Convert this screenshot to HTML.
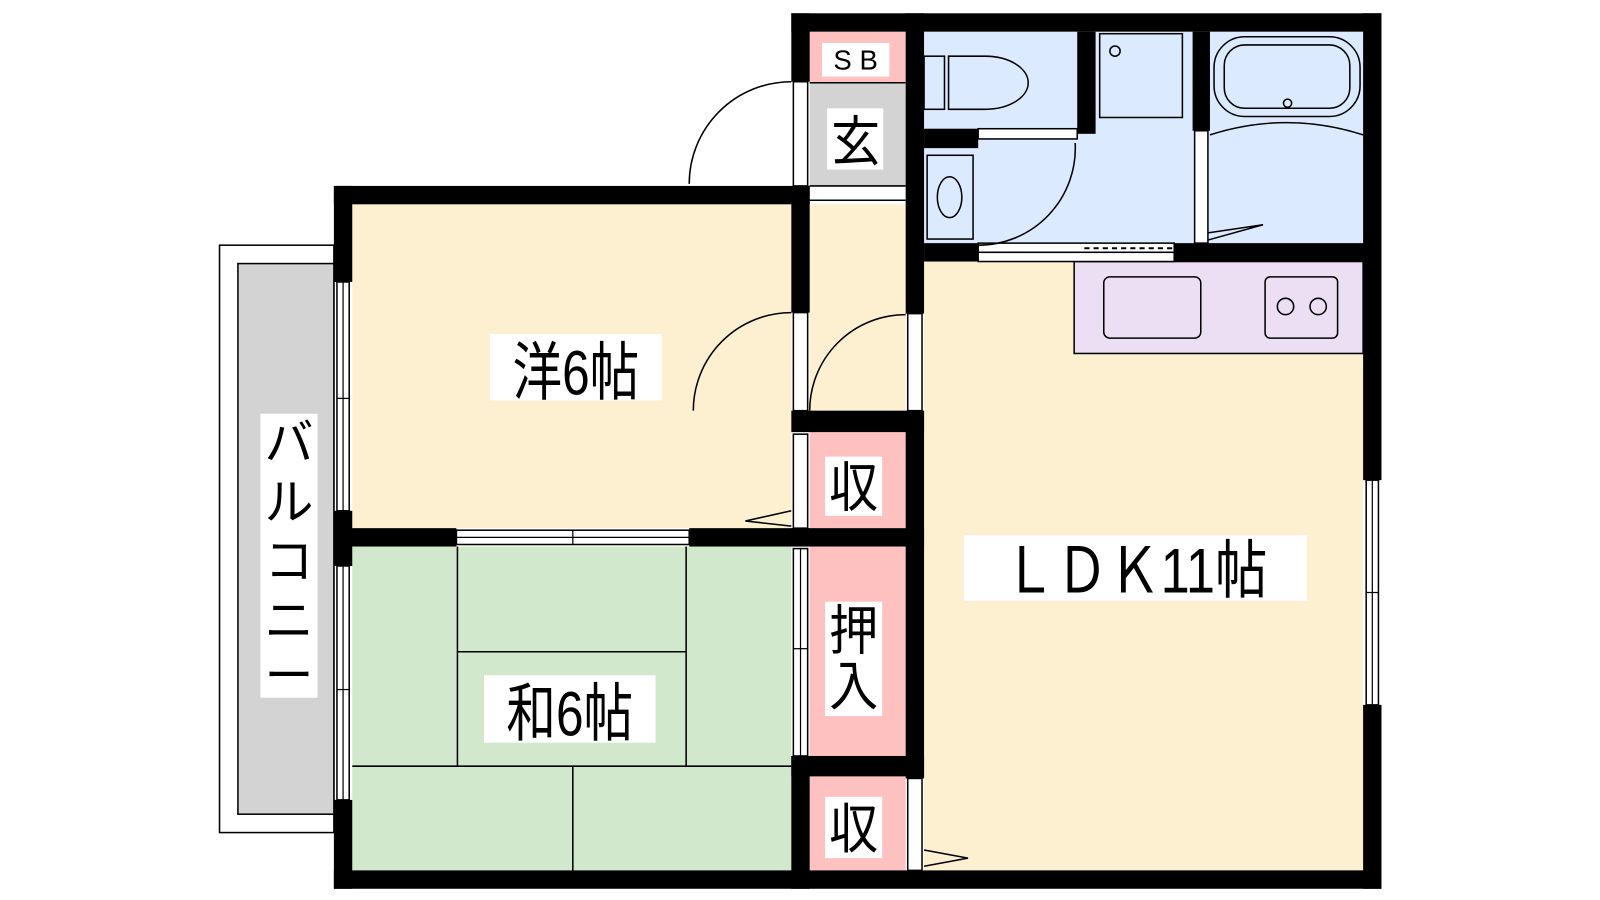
<!DOCTYPE html>
<html><head><meta charset="utf-8"><style>
body{margin:0;background:#fff}
svg{display:block}
text{font-family:"Liberation Sans","Noto Sans CJK JP",sans-serif;fill:#000}
</style></head><body>
<svg width="1600" height="900" viewBox="0 0 1567 881" preserveAspectRatio="none" xmlns="http://www.w3.org/2000/svg">
<rect x="215" y="240" width="112" height="575" fill="#fff" stroke="#000" stroke-width="1.5"/>
<rect x="233" y="258" width="94" height="539" fill="#d3d3d3" stroke="#000" stroke-width="1.5"/>
<rect x="345" y="200" width="430" height="317" fill="#fdf0d0"/>
<rect x="793" y="200" width="94" height="205" fill="#fdf0d0"/>
<rect x="905" y="256" width="430" height="596" fill="#fdf0d0"/>
<rect x="345" y="535" width="430" height="317" fill="#d2e8cc"/>
<rect x="793" y="31" width="94" height="50" fill="#ffc0c0"/>
<rect x="793" y="81" width="94" height="101" fill="#d3d3d3"/>
<rect x="793" y="423" width="94" height="94" fill="#ffc0c0"/>
<rect x="793" y="535" width="94" height="205" fill="#ffc0c0"/>
<rect x="793" y="760" width="94" height="92" fill="#ffc0c0"/>
<rect x="905" y="31" width="430" height="207" fill="#dbeafe"/>
<rect x="1052" y="256" width="283" height="90" fill="#ecdff3" stroke="#000" stroke-width="1.5"/>
<g stroke="#000" stroke-width="1.5" fill="none">
<line x1="448" y1="535" x2="448" y2="750"/><line x1="672" y1="535" x2="672" y2="750"/>
<line x1="448" y1="638" x2="672" y2="638"/><line x1="345" y1="750" x2="775" y2="750"/>
<line x1="561" y1="750" x2="561" y2="852"/>
<line x1="793" y1="81" x2="887" y2="81"/>
<line x1="793" y1="182" x2="887" y2="182"/><line x1="793" y1="196" x2="887" y2="196"/>
</g>
<g fill="#000">
<rect x="775" y="13" width="578" height="18"/>
<rect x="1335" y="13" width="18" height="457"/>
<rect x="1335" y="690" width="18" height="180"/>
<rect x="327" y="852" width="1026" height="18"/>
<rect x="327" y="182" width="466" height="18"/>
<rect x="327" y="182" width="18" height="94"/>
<rect x="327" y="500" width="18" height="54"/>
<rect x="327" y="783" width="18" height="87"/>
<rect x="775" y="13" width="18" height="67"/>
<rect x="775" y="182" width="18" height="124"/>
<rect x="887" y="13" width="18" height="294"/>
<rect x="775" y="402" width="130" height="21"/>
<rect x="327" y="517" width="120" height="18"/>
<rect x="675" y="517" width="230" height="18"/>
<rect x="775" y="517" width="18" height="18"/>
<rect x="887" y="402" width="18" height="360"/>
<rect x="775" y="740" width="130" height="20"/>
<rect x="775" y="740" width="18" height="130"/>
<rect x="905" y="126" width="53" height="19"/>
<rect x="1055" y="31" width="18" height="100"/>
<rect x="1168" y="31" width="17" height="97"/>
<rect x="905" y="238" width="53" height="18"/>
<rect x="1150" y="238" width="203" height="18"/>
</g>
<g fill="#fff" stroke="#000" stroke-width="1.5">
<rect x="330" y="276" width="12" height="224"/><rect x="330" y="554" width="12" height="229"/>
<rect x="447" y="519" width="228" height="14"/>
<rect x="1338" y="470" width="12" height="220"/>
<rect x="777" y="80" width="14" height="102"/>
<rect x="777" y="306" width="14" height="96"/>
<rect x="889" y="307" width="14" height="95"/>
<rect x="777" y="425" width="14" height="92"/>
<rect x="777" y="537" width="14" height="203"/>
<rect x="889" y="762" width="14" height="90"/>
<rect x="958" y="126" width="97" height="10"/>
<rect x="1170" y="128" width="13" height="110"/>
<rect x="958" y="238" width="192" height="9"/><rect x="958" y="247" width="192" height="9"/>
</g>
<g stroke="#000" stroke-width="1.2">
<line x1="336" y1="276" x2="336" y2="500"/><line x1="336" y1="554" x2="336" y2="783"/>
<line x1="447" y1="526" x2="675" y2="526"/><line x1="1344" y1="470" x2="1344" y2="690"/>
<line x1="784" y1="537" x2="784" y2="740"/>
<line x1="330" y1="390" x2="342" y2="390"/><line x1="330" y1="675" x2="342" y2="675"/>
<line x1="561" y1="519" x2="561" y2="533"/><line x1="1338" y1="580" x2="1350" y2="580"/>
<line x1="777" y1="635" x2="791" y2="635"/>
</g>
<line x1="1062" y1="243" x2="1148" y2="243" stroke="#000" stroke-width="2" stroke-dasharray="5,4"/>
<g fill="none" stroke="#000" stroke-width="1.5">
<path d="M775 80 A100 100 0 0 0 675 180"/>
<path d="M775 306 A96 96 0 0 0 679 402"/>
<path d="M887 308 A94 94 0 0 0 793 402"/>
<path d="M958 240 A95 95 0 0 0 1053 140"/>
<path d="M1183 228 L1237 220 L1183 235"/>
<path d="M775 500 L730 510 L775 515"/>
<path d="M905 832 L948 840 L905 848"/>
</g>
<g fill="none" stroke="#000" stroke-width="1.5">
<rect x="905" y="55" width="20" height="52"/>
<path d="M929 55 H965 A42 26 0 0 1 965 107 H929 Z"/>
<rect x="1077" y="33" width="81" height="82"/>
<circle cx="1092" cy="50" r="5"/>
<rect x="1189" y="36" width="143" height="78" rx="30"/>
<rect x="1199" y="44" width="123" height="62" rx="20"/>
<circle cx="1261" cy="101" r="4"/>
<path d="M1185 132 Q1260 108 1335 132"/>
<rect x="908" y="152" width="45" height="82"/>
<ellipse cx="930" cy="193" rx="12" ry="20"/>
<rect x="1081" y="271" width="95" height="60" rx="6"/>
<rect x="1239" y="271" width="71" height="60" rx="5"/>
<circle cx="1259" cy="300" r="8"/><circle cx="1291" cy="300" r="8"/>
</g>
<g>
<rect x="480" y="327" width="168" height="65" fill="#fff"/>
<text transform="translate(564 386) scale(0.9 1.15)" font-size="54" text-anchor="middle">洋6帖</text>
<rect x="474" y="661" width="168" height="66" fill="#fff"/>
<text transform="translate(558 720) scale(0.9 1.15)" font-size="54" text-anchor="middle">和6帖</text>
<rect x="944" y="524" width="336" height="64" fill="#fff"/>
<text transform="translate(1112 580) scale(0.95 1.15)" font-size="54" text-anchor="middle">ＬＤＫ11帖</text>
<rect x="255" y="405" width="56" height="278" fill="#fff"/>
<text x="283" y="450" font-size="48" text-anchor="middle">バ</text>
<text x="283" y="508" font-size="48" text-anchor="middle">ル</text>
<text x="283" y="566" font-size="48" text-anchor="middle">コ</text>
<text x="283" y="624" font-size="48" text-anchor="middle">ニ</text>
<text x="283" y="678" font-size="48" text-anchor="middle">ー</text>
<rect x="805" y="42" width="66" height="33" fill="#fff"/>
<text x="838" y="68" font-size="27" text-anchor="middle">S B</text>
<rect x="810" y="106" width="55" height="60" fill="#fff"/>
<text transform="translate(838 157) scale(1 1.1)" font-size="48" text-anchor="middle">玄</text>
<rect x="808" y="447" width="56" height="58" fill="#fff"/>
<text transform="translate(836 496) scale(1 1.1)" font-size="48" text-anchor="middle">収</text>
<rect x="808" y="589" width="56" height="112" fill="#fff"/>
<text transform="translate(836 636) scale(1 1.1)" font-size="48" text-anchor="middle">押</text>
<text transform="translate(836 690) scale(1 1.1)" font-size="48" text-anchor="middle">入</text>
<rect x="808" y="780" width="56" height="60" fill="#fff"/>
<text transform="translate(836 830) scale(1 1.1)" font-size="48" text-anchor="middle">収</text>
</g>
</svg>
</body></html>
